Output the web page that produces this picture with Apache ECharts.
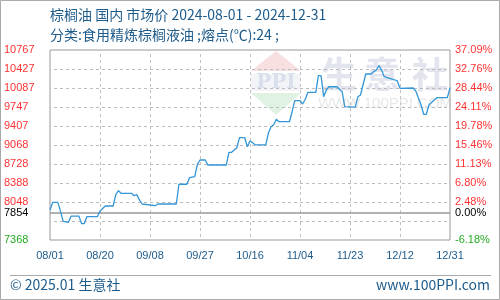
<!DOCTYPE html>
<html><head><meta charset="utf-8">
<script src="https://cdn.jsdelivr.net/npm/echarts@6/dist/echarts.min.js"></script>
<style>html,body{margin:0;padding:0;background:#fff}#c{width:500px;height:300px}</style>
</head><body><div id="c"></div>
<script>
// ---- data ----
const dates = ['08-01','08-02','08-04','08-05','08-06','08-08','08-09','08-12','08-13','08-14','08-15','08-19','08-20','08-21','08-22','08-25','08-26','08-27','08-28','09-01','09-02','09-03','09-04','09-05','09-10','09-11','09-18','09-19','09-22','09-23','09-25','09-26','09-27','09-29','09-30','10-07','10-08','10-09','10-10','10-11','10-12','10-14','10-15','10-16','10-17','10-18','10-22','10-23','10-24','10-25','10-26','10-27','10-31','11-01','11-02','11-04','11-05','11-06','11-07','11-10','11-11','11-12','11-13','11-14','11-15','11-18','11-19','11-20','11-21','11-25','11-26','11-27','11-28','11-29','12-01','12-02','12-03','12-04','12-05','12-06','12-09','12-11','12-12','12-17','12-18','12-20','12-21','12-22','12-23','12-25','12-26','12-30','12-31'];
const prices = [7905,8040,8040,7880,7700,7685,7795,7795,7660,7660,7785,7785,7887,7932,7976,7976,8180,8250,8203,8203,8160,8180,8084,8012,7982,8012,8012,8365,8365,8483,8500,8722,8799,8799,8710,8710,8937,8937,8978,9019,9198,9198,9037,9139,9110,9068,9068,9282,9395,9430,9527,9484,9484,9663,9860,9860,9801,9885,10010,10010,10307,10307,9932,10052,10110,10110,10064,10021,9753,9745,9932,9962,10154,10338,10338,10380,10409,10486,10409,10289,10248,10213,10082,10087,10034,9783,9617,9617,9783,9873,9914,9914,10093];
const year = 2024;
const startDate = '08-01';
const endDate = '12-31';
const xLabels = ['08/01','08/20','09/08','09/27','10/16','11/04','11/23','12/12','12/31'];
const xLabelStep = 19;
const baseValue = 7854;
const axisMin = 7368, axisMax = 10767;
const gridDivisions = 10;
const leftTickValues = [7368,7854,8048,8388,8728,9068,9407,9747,10087,10427,10767];
const leftTickLabels = ['7368','7854','8048','8388','8728','9068','9407','9747','10087','10427','10767'];
const rightTickLabels = ['-6.18%','0.00%','2.48%','6.80%','11.13%','15.46%','19.78%','24.11%','28.44%','32.76%','37.09%'];
const titleText = '棕榈油 国内 市场价 2024-08-01 - 2024-12-31';
const subText = '分类:食用精炼棕榈液油 ;熔点(℃):24 ;';
const footLeft = '© 2025.01 生意社';
const footRight = 'www.100PPI.com';

// ---- build ----
function dayOf(md){const [m,d]=md.split('-').map(Number);const [m0,d0]=startDate.split('-').map(Number);return Math.round((Date.UTC(year,m-1,d)-Date.UTC(year,m0-1,d0))/86400000);}
const seriesData = dates.map((d,i)=>[dayOf(d),prices[i]]);
const maxDay = dayOf(endDate);
function tickIdx(v){let b=0,bd=1e9;leftTickValues.forEach((t,i)=>{const dd=Math.abs(t-v);if(dd<bd){bd=dd;b=i;}});return b;}
function styleKey(i){return leftTickValues[i]===axisMin?'g':(leftTickValues[i]===baseValue?'k':'r');}
const rich={r:{color:'#ff3333'},g:{color:'#22aa22'},k:{color:'#000000'}};
const FONT='"Liberation Sans", Arial, sans-serif';
const CJK='"Noto Sans CJK SC", "Noto Sans", sans-serif';
const blue='#1d5b8b';
// dash look via stroke pattern (3px on / 3px off)
function dashPattern(alongX,col){const c=document.createElement('canvas');c.width=6;c.height=6;const g=c.getContext('2d');g.fillStyle=col;if(alongX)g.fillRect(0,0,3,6);else g.fillRect(0,0,6,3);return {image:c,repeat:'repeat'};}

const chart = echarts.init(document.getElementById('c'), null, {renderer:'canvas'});
chart.setOption({
  animation:false,
  backgroundColor:'#fff',
  grid:{left:50,right:50,top:50,bottom:60,show:true,borderColor:'#999',borderWidth:1},
  xAxis:{type:'value',min:0,max:maxDay,interval:xLabelStep,
    axisLine:{show:false},axisTick:{show:false},
    splitLine:{show:true,showMinLine:false,showMaxLine:false,lineStyle:{color:dashPattern(false,'#c2c2c2'),type:'solid',width:1}},
    axisLabel:{margin:10,fontFamily:FONT,fontSize:11,color:blue,
      formatter:v=>xLabels[Math.round(v/xLabelStep)]||''}},
  yAxis:[
   {type:'value',min:0,max:gridDivisions,interval:1,position:'left',
    axisLine:{show:false},axisTick:{show:false},axisLabel:{show:false},
    splitLine:{show:true,showMinLine:false,showMaxLine:false,lineStyle:{color:dashPattern(true,'#bcbcbc'),type:'solid',width:1}}},
   {type:'value',min:axisMin,max:axisMax,position:'left',
    axisLine:{show:false},axisTick:{show:false},splitLine:{show:false},
    axisLabel:{customValues:leftTickValues,align:'left',margin:46,fontFamily:FONT,fontSize:11,
      formatter:v=>{const i=tickIdx(v);return '{'+styleKey(i)+'|'+leftTickLabels[i]+'}';},rich:rich}},
   {type:'value',min:axisMin,max:axisMax,position:'right',
    axisLine:{show:false},axisTick:{show:false},splitLine:{show:false},
    axisLabel:{customValues:leftTickValues,align:'left',margin:5,fontFamily:FONT,fontSize:11,
      formatter:v=>{const i=tickIdx(v);return '{'+styleKey(i)+'|'+rightTickLabels[i]+'}';},rich:rich}}],
  series:[{type:'line',yAxisIndex:1,data:seriesData,showSymbol:false,symbol:'none',
    lineStyle:{color:'#3396d8',width:1.3},z:5,
    markLine:{silent:true,symbol:['none','none'],label:{show:false},
      lineStyle:{color:'#999999',type:'solid',width:1.5},data:[{yAxis:baseValue}]}}],
  graphic:[
    {type:'polygon',z:-10,shape:{points:[[251,71],[276,51],[301,71]]},style:{fill:'#f9e0e0'}},
    {type:'rect',z:-10,shape:{x:251,y:74,width:50,height:17},style:{fill:'#f3f4f8'}},
    {type:'text',z:-9,x:276,y:83,style:{text:'PPI',font:'bold 20px "DejaVu Serif", serif',fill:'#dadfec',align:'center',verticalAlign:'middle'}},
    {type:'polygon',z:-10,shape:{points:[[251,93],[301,93],[276,115]]},style:{fill:'#e0f2e4'}},
    {type:'text',z:-9,x:339,y:74,style:{text:'生',font:'bold 36px '+CJK,fill:'#e2e5ee',align:'center',verticalAlign:'middle'}},
    {type:'text',z:-9,x:382,y:74,style:{text:'意',font:'bold 36px '+CJK,fill:'#e2e5ee',align:'center',verticalAlign:'middle'}},
    {type:'text',z:-9,x:430,y:74,style:{text:'社',font:'bold 36px '+CJK,fill:'#e2e5ee',align:'center',verticalAlign:'middle'}},
    {type:'text',z:-9,x:385,y:104,style:{text:'WWW.100PPI.COM',font:'15px '+FONT,fill:'#e8e8e8',align:'center',verticalAlign:'middle'}},
    {type:'text',x:50,y:15,style:{text:titleText,font:'14px '+CJK,fill:blue,verticalAlign:'middle'}},
    {type:'text',x:50,y:35,style:{text:subText,font:'14px '+CJK,fill:blue,verticalAlign:'middle'}},
    {type:'line',shape:{x1:10,y1:275.5,x2:491,y2:275.5},style:{stroke:'#aaaaaa',lineWidth:1}},
    {type:'text',x:10,y:285,style:{text:footLeft,font:'14px '+CJK,fill:blue,verticalAlign:'middle'}},
    {type:'text',x:490,y:285,style:{text:footRight,font:'14px '+CJK,fill:blue,align:'right',verticalAlign:'middle'}},
    {type:'rect',shape:{x:0.5,y:0.5,width:499,height:299},style:{fill:'rgba(0,0,0,0)',stroke:'#aaaaaa',lineWidth:1},silent:true}
  ]
});
</script></body></html>
